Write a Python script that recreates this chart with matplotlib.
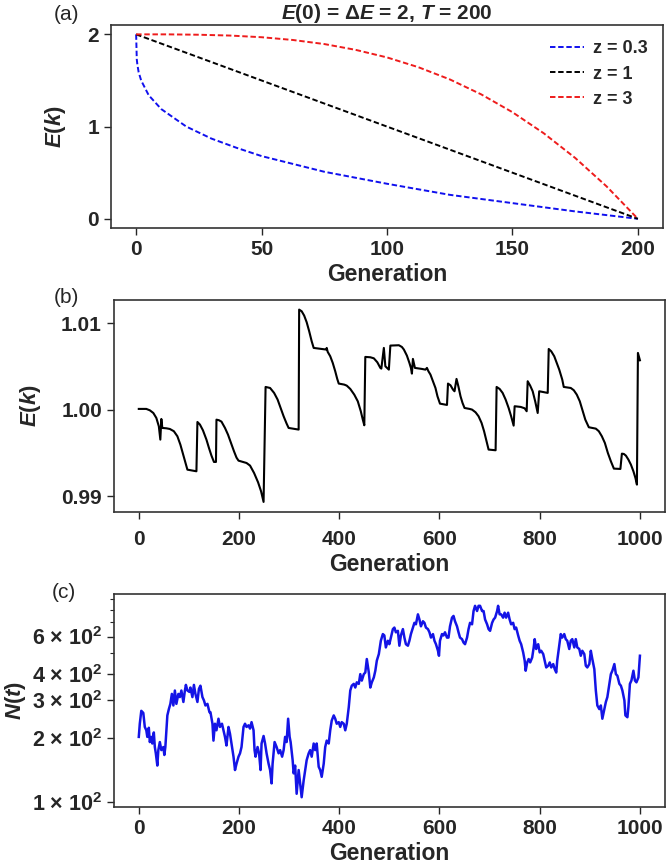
import matplotlib
matplotlib.use("Agg")
import matplotlib.pyplot as plt
from matplotlib.ticker import FixedLocator, FixedFormatter, NullFormatter

# ~~~~~~~~~~ style ~~~~~~~~~~ #
plt.rcParams['font.family'] = ['Liberation Sans', 'DejaVu Sans']
plt.rcParams['font.weight'] = 'bold'
plt.rcParams['axes.labelweight'] = 'bold'
plt.rcParams['axes.titleweight'] = 'bold'
plt.rcParams['mathtext.fontset'] = 'custom'
plt.rcParams['mathtext.rm'] = 'Liberation Sans:bold'
plt.rcParams['mathtext.it'] = 'Liberation Sans:italic:bold'
plt.rcParams['mathtext.bf'] = 'Liberation Sans:bold'
dark = '#262626'
plt.rcParams['text.color'] = dark
plt.rcParams['axes.labelcolor'] = dark
plt.rcParams['xtick.color'] = dark
plt.rcParams['ytick.color'] = dark
plt.rcParams['axes.edgecolor'] = '#333333'

# ~~~~~~~~~~ (a) energy schedules, E(0) = dE = 2, T = 200 ~~~~~~~~~~ #
k_z03 = [0, 0.25, 0.5, 1, 2, 5, 10, 20, 30, 40, 50, 75, 100, 125, 150, 175, 200]
e_z03 = [2.0, 1.73, 1.67, 1.59, 1.50, 1.34, 1.19, 1.00, 0.87, 0.77, 0.68,
         0.51, 0.38, 0.26, 0.17, 0.08, 0.0]
k_z1 = [0, 200]
e_z1 = [2.0, 0.0]
k_z3 = [0, 12.5, 25, 37.5, 50, 62.5, 75, 87.5, 100, 112.5, 125, 137.5,
        150, 162.5, 175, 187.5, 200]
e_z3 = [2.0, 2.0, 1.996, 1.987, 1.969, 1.939, 1.895, 1.832, 1.75, 1.644,
        1.512, 1.35, 1.156, 0.927, 0.66, 0.352, 0.0]

# ~~~~~~~~~~ (b) E(k) over 1000 generations ~~~~~~~~~~ #
k_b = [0, 15, 22, 29, 35, 40, 43, 45, 47, 55, 62, 70, 77, 83, 88, 93, 97, 115,
       117, 122, 128, 135, 140, 145, 150, 154, 155, 160, 165, 172, 178, 184, 190,
       195, 199, 215, 222, 230, 238, 244, 249, 253, 262, 270, 277, 283, 289, 295,
       299, 319, 320, 325, 330, 335, 340, 345, 349, 360, 374, 375, 377, 382, 387,
       392, 396, 399, 410, 415, 422, 430, 437, 443, 447, 450, 452, 462, 469, 476,
       482, 484, 489, 492, 499, 502, 519, 525, 529, 535, 540, 543, 545, 547, 551,
       565, 572, 575, 578, 582, 587, 592, 596, 601, 615, 617, 622, 627, 630, 634,
       638, 642, 646, 650, 660, 665, 672, 678, 684, 689, 694, 698, 712, 714, 720,
       726, 732, 738, 743, 748, 750, 762, 770, 774, 776, 781, 786, 791, 796, 799,
       816, 818, 823, 829, 834, 839, 845, 848, 862, 868, 874, 880, 886, 891, 898,
       912, 918, 924, 930, 936, 942, 948, 961, 964, 968, 972, 977, 982, 987, 991,
       994, 996, 1000]
e_b = [1.00008, 1.00008, 0.99992, 0.99961, 0.99904, 0.99807, 0.99653, 0.99892,
       0.99788, 0.99784, 0.99776, 0.99750, 0.99692, 0.99595, 0.99491, 0.99383,
       0.99306, 0.99287, 0.99857, 0.99827, 0.99761, 0.99653, 0.99557, 0.99468,
       0.99395, 0.99395, 0.99884, 0.99877, 0.99861, 0.99788, 0.99711, 0.99615,
       0.99518, 0.99445, 0.99410, 0.99383, 0.99353, 0.99268, 0.99160, 0.99056,
       0.98933, 1.00262, 1.00250, 1.00193, 1.00116, 1.00019, 0.99923, 0.99838,
       0.99788, 0.99769, 1.01156, 1.01137, 1.01087, 1.01010, 1.00906, 1.00790,
       1.00713, 1.00705, 1.00694, 1.00713, 1.00667, 1.00617, 1.00540, 1.00443,
       1.00355, 1.00301, 1.00289, 1.00277, 1.00239, 1.00173, 1.00096, 0.99981,
       0.99884, 0.99819, 1.00609, 1.00605, 1.00593, 1.00547, 1.00482, 1.00474,
       1.00713, 1.00501, 1.00462, 1.00740, 1.00744, 1.00724, 1.00694, 1.00624,
       1.00540, 1.00482, 1.00416, 1.00586, 1.00482, 1.00470, 1.00462, 1.00482,
       1.00443, 1.00405, 1.00328, 1.00250, 1.00154, 1.00069, 1.00054, 1.00301,
       1.00281, 1.00231, 1.00212, 1.00355, 1.00262, 1.00154, 1.00077, 1.00019,
       1.00008, 1.00000, 0.99969, 0.99923, 0.99846, 0.99750, 0.99634, 0.99538,
       0.99530, 1.00262, 1.00239, 1.00193, 1.00116, 1.00019, 0.99923, 0.99815,
       1.00039, 1.00031, 1.00015, 0.99981, 1.00328, 1.00277, 1.00212, 1.00096,
       0.99961, 1.00212, 1.00193, 1.00701, 1.00674, 1.00617, 1.00540, 1.00462,
       1.00347, 1.00262, 1.00250, 1.00224, 1.00173, 1.00096, 0.99981, 0.99884,
       0.99796, 0.99780, 0.99750, 0.99692, 0.99615, 0.99499, 0.99403, 0.99318,
       0.99314, 0.99491, 0.99487, 0.99468, 0.99422, 0.99364, 0.99287, 0.99210,
       0.99133, 1.00655, 1.00570]

# ~~~~~~~~~~ (c) population size N(t) ~~~~~~~~~~ #
k_c = [0, 2, 5, 9, 12, 15, 17, 20, 22, 25, 27, 30, 32, 34, 37, 39, 42, 45, 49,
       51, 53, 55, 57, 60, 63, 66, 69, 72, 75, 79, 82, 85, 89, 92, 94, 97, 101,
       103, 107, 110, 113, 117, 120, 123, 127, 130, 133, 137, 141, 143, 147, 149,
       152, 155, 159, 162, 166, 169, 172, 175, 179, 182, 185, 189, 192, 195, 199,
       202, 205, 209, 212, 215, 219, 222, 225, 229, 231, 233, 237, 240, 243, 245,
       249, 252, 255, 259, 262, 265, 267, 271, 275, 279, 282, 286, 289, 292, 295,
       298, 301, 303, 307, 309, 312, 315, 319, 322, 325, 329, 332, 335, 339, 342,
       345, 349, 352, 355, 359, 362, 365, 369, 372, 375, 379, 382, 385, 389, 392,
       395, 399, 402, 405, 409, 412, 415, 419, 422, 425, 429, 432, 435, 439, 442,
       445, 449, 452, 455, 459, 462, 465, 469, 472, 475, 479, 483, 487, 490, 493,
       497, 500, 503, 507, 510, 513, 517, 520, 523, 527, 530, 533, 537, 540, 543,
       547, 550, 553, 557, 560, 563, 567, 570, 573, 577, 580, 583, 587, 590, 593,
       597, 599, 601, 605, 608, 611, 615, 618, 621, 625, 628, 631, 635, 638, 641,
       645, 648, 651, 655, 658, 661, 665, 668, 671, 675, 678, 681, 685, 688, 691,
       695, 698, 701, 705, 708, 711, 715, 717, 720, 723, 727, 730, 733, 737, 740,
       743, 747, 750, 753, 757, 760, 763, 767, 770, 772, 775, 778, 781, 785, 788,
       790, 793, 797, 800, 803, 807, 810, 813, 817, 820, 823, 827, 830, 833, 835,
       839, 842, 845, 849, 852, 855, 859, 862, 865, 869, 872, 875, 879, 882, 885,
       889, 892, 895, 899, 902, 905, 909, 912, 915, 919, 922, 925, 929, 932, 935,
       939, 942, 945, 949, 952, 955, 959, 962, 965, 969, 971, 975, 977, 980, 983,
       987, 990, 993, 997, 1000]
n_c = [202, 233, 268, 262, 225, 217, 202, 223, 191, 202, 188, 212, 181, 169, 148,
       175, 191, 175, 181, 166, 181, 217, 255, 273, 289, 322, 284, 334, 289, 322,
       311, 334, 295, 334, 355, 334, 329, 345, 311, 355, 322, 295, 340, 352, 311,
       300, 284, 289, 264, 264, 233, 194, 233, 217, 246, 225, 233, 217, 202, 184,
       225, 209, 188, 163, 141, 151, 163, 169, 181, 225, 233, 225, 229, 221, 237,
       217, 175, 163, 181, 169, 141, 188, 204, 188, 169, 151, 141, 122, 151, 191,
       181, 169, 175, 163, 175, 202, 191, 246, 202, 191, 157, 136, 148, 109, 141,
       122, 105, 126, 141, 157, 169, 175, 163, 188, 175, 188, 146, 141, 131, 151,
       181, 194, 188, 217, 241, 255, 246, 233, 237, 225, 237, 233, 217, 233, 279,
       334, 352, 359, 345, 365, 359, 399, 372, 399, 406, 470, 406, 345, 365, 385,
       414, 462, 496, 573, 616, 607, 533, 573, 552, 593, 650, 661, 628, 638, 543,
       607, 650, 593, 552, 543, 573, 616, 661, 696, 685, 763, 722, 670, 708, 696,
       661, 650, 628, 593, 616, 573, 552, 514, 487, 573, 616, 607, 628, 593, 593,
       670, 736, 750, 708, 670, 628, 593, 583, 562, 552, 593, 650, 696, 685, 791,
       837, 791, 837, 837, 791, 791, 722, 685, 650, 638, 696, 722, 736, 791, 837,
       763, 763, 736, 777, 736, 777, 722, 685, 696, 650, 661, 607, 573, 552, 505,
       462, 414, 453, 470, 453, 478, 533, 583, 524, 552, 505, 514, 496, 462, 429,
       437, 453, 429, 445, 421, 406, 462, 543, 616, 593, 616, 583, 573, 524, 573,
       583, 533, 583, 533, 524, 487, 514, 496, 437, 429, 445, 514, 470, 421, 334,
       284, 273, 284, 246, 273, 295, 311, 359, 399, 414, 445, 399, 392, 359, 352,
       334, 300, 255, 250, 279, 359, 372, 414, 372, 365, 385, 487]

n_ticks = [100, 200, 300, 400, 600]
n_tick_labels = ['1 × 10$^{2}$', '2 × 10$^{2}$', '3 × 10$^{2}$',
                 '4 × 10$^{2}$', '6 × 10$^{2}$']
n_minor = [500, 700, 800, 900]

fig = plt.figure(figsize=(6.69, 8.67), dpi=100)
ax1 = fig.add_axes([0.166, 0.737, 0.825, 0.234])
ax2 = fig.add_axes([0.170, 0.410, 0.824, 0.244])
ax3 = fig.add_axes([0.170, 0.0695, 0.824, 0.245])

dash = (2.8, 1.4)
ax1.plot(k_z03, e_z03, color='#1010ee', lw=1.4, dashes=dash, label='z = 0.3')
ax1.plot(k_z1, e_z1, color='black', lw=1.4, dashes=dash, label='z = 1')
ax1.plot(k_z3, e_z3, color='#ee1c1c', lw=1.4, dashes=dash, label='z = 3')
ax1.set_xticks([0, 50, 100, 150, 200])
ax1.set_yticks([0, 1, 2])
ax1.set_title(r'$E$(0) = Δ$E$ = 2, $T$ = 200', fontsize=15, pad=3)
ax1.legend(loc='upper right', frameon=False, fontsize=13, handlelength=1.9,
           handletextpad=0.5, labelspacing=0.45, borderaxespad=0.45)
ax1.set_ylabel(r'$E(k)$', fontsize=16)
ax1.yaxis.set_label_coords(-0.078, 0.5)

ax2.plot(k_b, e_b, color='black', lw=1.5)
ax2.set_xticks([0, 200, 400, 600, 800, 1000])
ax2.set_yticks([0.99, 1.00, 1.01])
ax2.set_yticklabels(['0.99', '1.00', '1.01'])
ax2.set_ylabel(r'$E(k)$', fontsize=16)
ax2.yaxis.set_label_coords(-0.129, 0.5)

ax3.plot(k_c, n_c, color='#1414e6', lw=1.8)
ax3.set_yscale('log')
ax3.set_ylim(94.7, 948)
ax3.yaxis.set_major_locator(FixedLocator(n_ticks))
ax3.yaxis.set_major_formatter(FixedFormatter(n_tick_labels))
ax3.yaxis.set_minor_locator(FixedLocator(n_minor))
ax3.yaxis.set_minor_formatter(NullFormatter())
ax3.set_xticks([0, 200, 400, 600, 800, 1000])
ax3.set_ylabel(r'$N(t)$', fontsize=16)
ax3.yaxis.set_label_coords(-0.156, 0.5)

for ax in (ax1, ax2, ax3):
    ax.set_xlabel('Generation', fontsize=16.5, labelpad=3)
    ax.tick_params(axis='both', which='major', labelsize=15, length=5, width=1)
    ax.tick_params(axis='y', which='minor', length=3, width=0.8)
    for s in ax.spines.values():
        s.set_linewidth(1.2)
ax2.tick_params(axis='x', pad=8)
ax3.tick_params(axis='y', which='major', labelsize=15.5)

fig.text(0.099, 0.983, '(a)', fontsize=15, weight='normal', ha='center', va='center')
fig.text(0.099, 0.657, '(b)', fontsize=15, weight='normal', ha='center', va='center')
fig.text(0.096, 0.317, '(c)', fontsize=15, weight='normal', ha='center', va='center')

fig.savefig('out.png', dpi=100)
